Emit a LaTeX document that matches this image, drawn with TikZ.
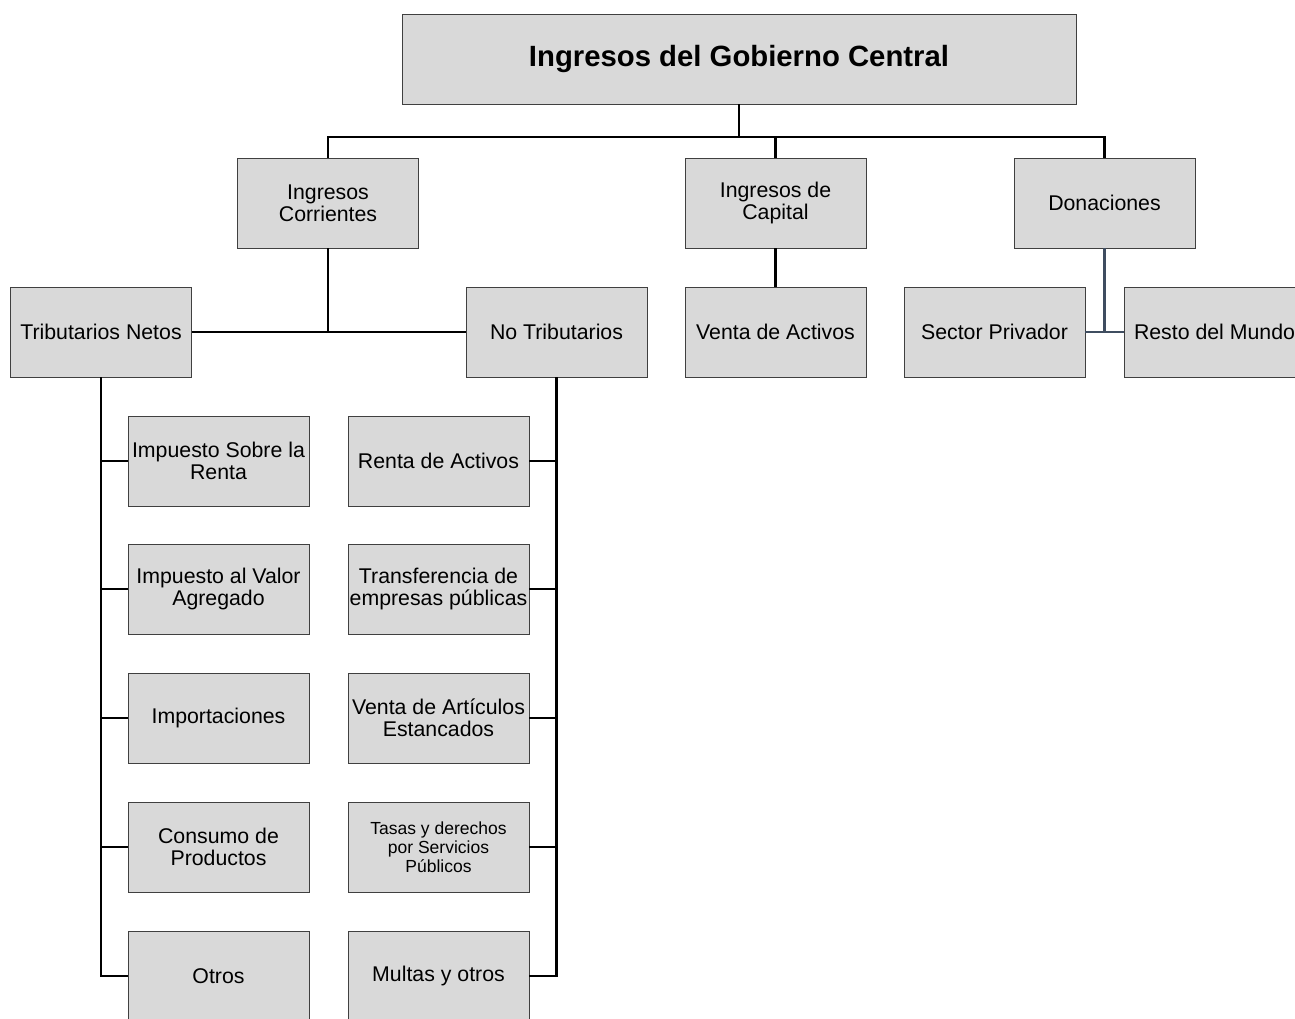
\documentclass[tikz,border=0pt]{standalone}
\usepackage{fontspec}
\setmainfont{Liberation Sans}
\begin{document}
\begin{tikzpicture}[x=1pt,y=-1pt,
  box/.style={draw=black!75,line width=0.9pt,fill=boxgray,minimum width=181pt,minimum height=90pt,inner sep=1pt,align=center,font=\fontsize{21.3}{22}\selectfont},
  conn/.style={draw=black,line width=2.6pt},
  sconn/.style={draw=slate,line width=2.6pt}]
\definecolor{boxgray}{HTML}{D9D9D9}
\definecolor{slate}{HTML}{3F4D60}
\clip (0,0) rectangle (1295,1019);
\fill[white] (0,0) rectangle (1295,1019);
% nodes
\node[box,minimum width=674pt,font=\fontsize{29.3}{32}\selectfont\bfseries] (top) at (739,59) {Ingresos del Gobierno Central};
\node[box] (ic) at (328,203) {Ingresos\\Corrientes};
\node[box] (icap) at (775.5,203) {Ingresos de\\Capital};
\node[box] (don) at (1104.5,203) {Donaciones};
\node[box] (trib) at (101,332) {Tributarios Netos};
\node[box] (notrib) at (556.5,332) {No Tributarios};
\node[box] (venta) at (775.5,332) {Venta de Activos};
\node[box] (sector) at (994.5,332) {Sector Privador};
\node[box] (resto) at (1214.5,332) {Resto del Mundo};
\node[box] (isr) at (218.5,461) {Impuesto Sobre la\\Renta};
\node[box] (iva) at (218.5,589) {Impuesto al Valor\\Agregado};
\node[box] (imp) at (218.5,718) {Importaciones};
\node[box] (cons) at (218.5,847) {Consumo de\\Productos};
\node[box] (otros) at (218.5,976) {Otros};
\node[box] (renta) at (438.5,461) {Renta de Activos};
\node[box] (transf) at (438.5,589) {Transferencia de\\empresas públicas};
\node[box] (vae) at (438.5,718) {Venta de Artículos\\Estancados};
\node[box,font=\fontsize{17.5}{19}\selectfont] (tasas) at (438.5,847) {Tasas y derechos\\por Servicios\\Públicos};
\node[box] (multas) at (438.5,976) {Multas y otros};
% connectors
\coordinate (bus) at (739,137);
\draw[conn] (top.south) -- (top.south |- bus);
\draw[conn] (ic.north) |- (bus) -| (don.north);
\draw[conn] (icap.north) -- (icap.north |- bus);
\draw[conn] (trib.east) -- (notrib.west);
\draw[conn] (ic.south) -- (ic.south |- trib.east);
\draw[conn] (icap.south) -- (venta.north);
\draw[sconn] (don.south) -- (don.south |- sector.east);
\draw[sconn] (sector.east) -- (resto.west);
\draw[conn] (trib.south) |- (otros.west);
\foreach \n in {isr,iva,imp,cons} \draw[conn] (\n.west) -- (\n.west -| trib.south);
\draw[conn] (notrib.south) |- (multas.east);
\foreach \n in {renta,transf,vae,tasas} \draw[conn] (\n.east) -- (\n.east -| notrib.south);
\end{tikzpicture}
\end{document}
